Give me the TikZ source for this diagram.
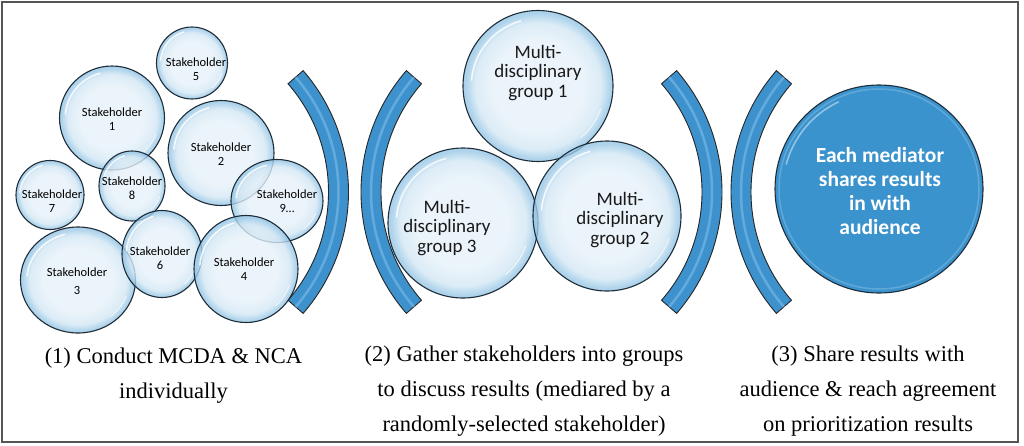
\documentclass[tikz,border=0pt]{standalone}
\usepackage{fontspec}
\setmainfont{Liberation Serif}
\newfontfamily\calib{Carlito}
\usetikzlibrary{shapes.geometric}
\definecolor{bubin}{HTML}{E6F1F9}
\definecolor{bubmid}{HTML}{D3E7F4}
\definecolor{bubrim}{HTML}{98C7E6}
\definecolor{bubline}{HTML}{1E2C38}
\definecolor{brkblue}{HTML}{3D92CE}
\definecolor{brklight}{HTML}{7DBCE8}
\definecolor{medblue}{HTML}{3A93CD}
\definecolor{framegray}{HTML}{555555}
\pgfdeclareradialshading{bubble}{\pgfpoint{0bp}{0bp}}{color(0bp)=(bubin); color(15bp)=(bubin); color(21bp)=(bubmid); color(24.2bp)=(bubrim); color(25bp)=(bubrim); color(50bp)=(bubrim)}
\tikzset{
  bubble/.style={ellipse, draw=bubline, line width=1.1pt, shade, shading=bubble, fill opacity=0.8, inner sep=0pt},
  gloss/.style={draw=white, line width=1.6pt, line cap=round, opacity=0.8},
  shtext/.style={font=\calib\fontsize{12.5}{14}\selectfont, align=center, text=black, inner sep=0pt},
  grtext/.style={font=\calib\fontsize{19}{19.5}\selectfont, align=center, text=black!90, inner sep=0pt},
  medtext/.style={font=\calib\bfseries\fontsize{21.5}{24}\selectfont, align=center, text=white, inner sep=0pt},
  captext/.style={font=\fontsize{22.5}{35}\selectfont, align=center, inner sep=0pt, anchor=north},
  brk/.style={fill=brkblue, draw=black!85, line width=0.9pt, line join=miter},
  brkhl/.style={draw=brklight, line width=2.5pt, opacity=0.6},
}
\newcommand\mkbubble[5]{%
  \node[bubble, minimum width=#4pt, minimum height=#5pt] (#1) at (#2,#3) {};
  \pgfmathsetlengthmacro\rxa{0.445*#4pt}\pgfmathsetlengthmacro\rya{0.445*#5pt}%
  \draw[gloss] ([shift={(105:{\rxa} and {\rya})}]#1.center) arc[start angle=105, end angle=175, x radius=\rxa, y radius=\rya];
  \draw[gloss, line width=1.2pt, opacity=0.6] ([shift={(-20:{\rxa} and {\rya})}]#1.center) arc[start angle=-20, end angle=-50, x radius=\rxa, y radius=\rya];
}
\newcommand\mkbracket[4]{%
  \filldraw[brk] ([shift={(#3:185pt)}]#1,#2) arc[start angle=#3, end angle=#4, radius=185pt]
    -- ([shift={(#4:165pt)}]#1,#2) arc[start angle=#4, end angle=#3, radius=165pt] -- cycle;
  \draw[brkhl] ([shift={(#3:175pt)}]#1,#2) arc[start angle=#3, end angle=#4, radius=175pt];
}
\begin{document}
\begin{tikzpicture}[x=1pt, y=-1pt]
\useasboundingbox (0,0) rectangle (1024,445);
\draw[framegray, line width=1.3pt] (2,2) rectangle (1018,442);

% brackets
\mkbracket{163.5}{192}{-41}{41}
\mkbracket{546}{192}{139}{221}
\mkbracket{537}{192}{-41}{41}
\mkbracket{916}{192}{139}{221}

% stakeholders
\mkbubble{s5}{192}{63}{71}{72}
\mkbubble{s1}{112}{118}{105}{104}
\mkbubble{s2}{221}{153}{106}{105}
\mkbubble{s7}{50}{195}{68}{69}
\mkbubble{s8}{132}{186}{66}{70}
\mkbubble{s9}{277}{201}{92}{83}
\mkbubble{s3}{78}{280}{115}{106}
\mkbubble{s6}{162}{254}{80}{87}
\mkbubble{s4}{246}{269}{104}{107}

% groups
\mkbubble{g1}{538}{86}{150}{151}
\mkbubble{g3}{463}{223}{150}{150}
\mkbubble{g2}{607}{216}{148}{150}

% mediator
\node[circle, draw=bubline, line width=1.1pt, fill=medblue, minimum size=208pt, inner sep=0pt] (med) at (879,189) {};
\draw[white, opacity=0.2, line width=1.5pt] (med.center) circle[radius=100pt];
\draw[gloss, opacity=0.45] ([shift={(115:96pt)}]med.center) arc[start angle=115, end angle=165, radius=96pt];

% texts
\node[shtext] (t5) at (196,69) {Stakeholder\\5};
\node[shtext] (t1) at (112,119) {Stakeholder\\1};
\node[shtext] (t2) at (221,154) {Stakeholder\\2};
\node[shtext] (t7) at (52,201) {Stakeholder\\7};
\node[shtext] (t8) at (132,188) {Stakeholder\\8};
\node[shtext] (t9) at (287,201) {Stakeholder\\9\ldots};
\node[shtext, font=\calib\fontsize{12.5}{18}\selectfont] (t3) at (77,281) {Stakeholder\\3};
\node[shtext] (t6) at (160,258) {Stakeholder\\6};
\node[shtext] (t4) at (244,269) {Stakeholder\\4};

\node[grtext] (tg1) at (538,73) {Multi-\\disciplinary\\group 1};
\node[grtext] (tg2) at (620,220) {Multi-\\disciplinary\\group 2};
\node[grtext] (tg3) at (447,228) {Multi-\\disciplinary\\group 3};

\node[medtext] (tmed) at (880,191) {Each mediator\\shares results\\in with\\audience};

% captions
\node[captext] (c1) at (173.5,348) {(1) Conduct MCDA \& NCA\\individually};
\node[captext] (c2) at (524,346) {(2) Gather stakeholders into groups\\to discuss results (mediared by a\\randomly-selected stakeholder)};
\node[captext] (c3) at (868,346) {(3) Share results with\\audience \& reach agreement\\on prioritization results};
\end{tikzpicture}
\end{document}
